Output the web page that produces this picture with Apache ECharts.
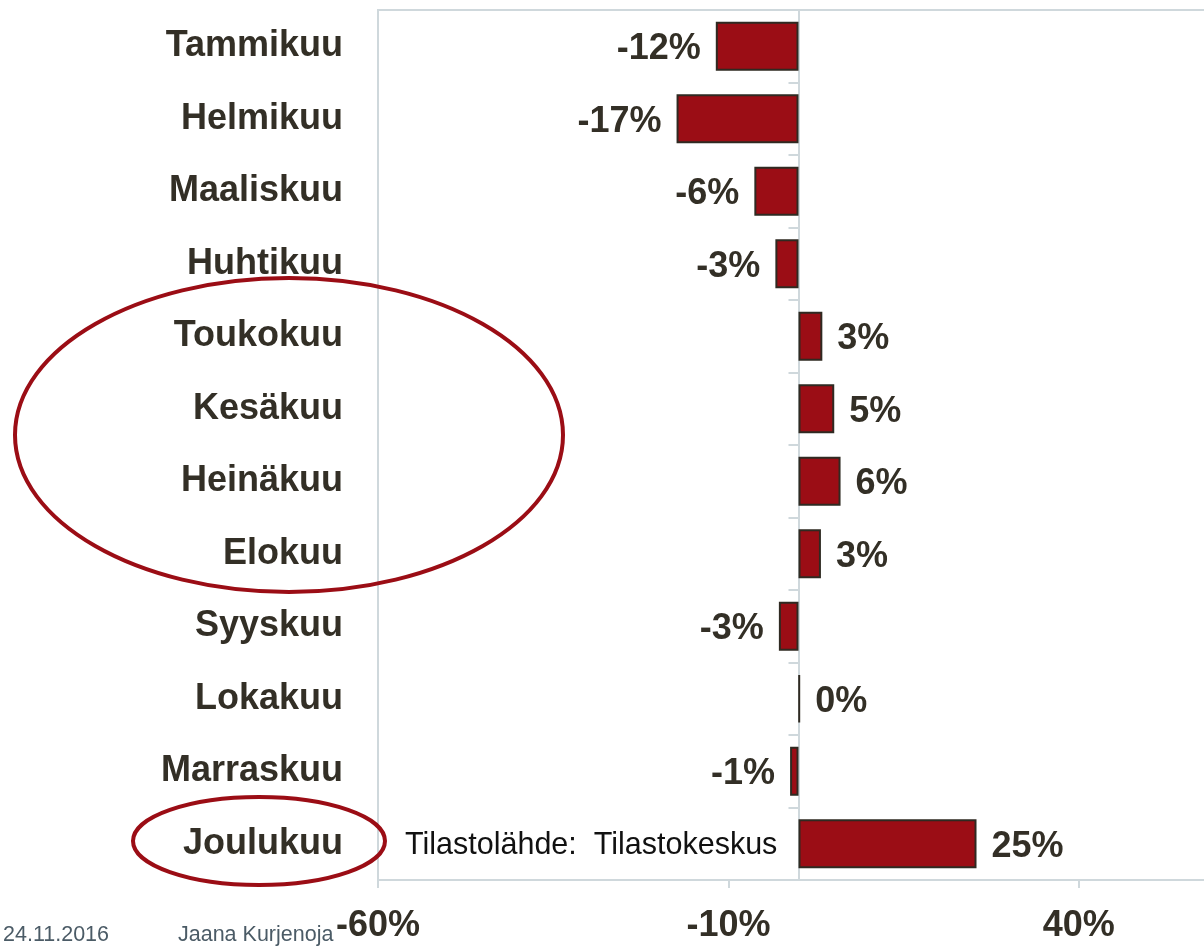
<!DOCTYPE html>
<html>
<head>
<meta charset="utf-8">
<script src="https://cdn.jsdelivr.net/npm/echarts@6/dist/echarts.min.js"></script>
<style>
html,body{margin:0;padding:0;background:#fff;}
#chart{width:1204px;height:946px;}
</style>
</head>
<body>
<div id="chart"></div>
<script>
var categories = ['Tammikuu','Helmikuu','Maaliskuu','Huhtikuu','Toukokuu','Kesäkuu','Heinäkuu','Elokuu','Syyskuu','Lokakuu','Marraskuu','Joulukuu'];
var values = [-11.8, -17.4, -6.3, -3.3, 3.4, 5.1, 6.0, 3.2, -2.8, 0.2, -1.2, 25.4];
var xTicks = {min: -60, max: 60, interval: 50};
var sourceText = 'Tilastolähde:  Tilastokeskus';
var footerDate = '24.11.2016';
var footerAuthor = 'Jaana Kurjenoja';

var FONT = '"Liberation Sans", Arial, sans-serif';
var TXT = '#332f26';
var LINE = '#cfd8dc';
var RED = '#9b0d15';

var barData = values.map(function (v) {
  return {value: v, label: {position: v < 0 ? 'left' : 'right'}};
});

var chart = echarts.init(document.getElementById('chart'));
chart.setOption({
  animation: false,
  backgroundColor: '#fff',
  grid: {left: 378, top: 10, right: -15, bottom: 66, show: true, borderColor: LINE, borderWidth: 2,
         backgroundColor: 'transparent', outerBoundsMode: 'none', containLabel: false},
  xAxis: {
    type: 'value', min: xTicks.min, max: xTicks.max, interval: xTicks.interval,
    axisLine: {show: true, onZero: false, lineStyle: {color: LINE, width: 2}},
    axisTick: {show: true, length: 8, lineStyle: {color: LINE, width: 2}},
    splitLine: {show: false},
    axisLabel: {formatter: function (v) { return v + '%'; }, showMaxLabel: false, color: TXT, fontSize: 36, fontWeight: 'bold', fontFamily: FONT, margin: 28}
  },
  yAxis: [{
    type: 'category', data: categories, inverse: true, position: 'left',
    axisLine: {show: false, onZero: false}, axisTick: {show: false},
    axisLabel: {color: TXT, fontSize: 36, fontWeight: 'bold', fontFamily: FONT, margin: 35, padding: [3, 0, 0, 0]}
  }, {
    type: 'category', data: categories, inverse: true, position: 'left',
    axisLine: {show: true, onZero: true, onZeroAxisIndex: 0, lineStyle: {color: LINE, width: 2}},
    axisTick: {show: true, length: 10, lineStyle: {color: LINE, width: 2}},
    axisLabel: {show: false}
  }],
  series: [{
    type: 'bar', yAxisIndex: 0, data: barData, barWidth: 49,
    itemStyle: {color: RED, borderColor: '#2f2a22', borderWidth: 2},
    label: {show: true, distance: 15, offset: [0, 3], color: TXT, fontSize: 36, fontWeight: 'bold', fontFamily: FONT,
      formatter: function (p) { return Math.round(p.value) + '%'; }}
  }],
  graphic: [
    {type: 'ellipse', shape: {cx: 289, cy: 435, rx: 274, ry: 157}, style: {fill: 'none', stroke: RED, lineWidth: 4}, z: 100},
    {type: 'ellipse', shape: {cx: 259, cy: 841, rx: 126, ry: 44}, style: {fill: 'none', stroke: RED, lineWidth: 4}, z: 100},
    {type: 'text', left: 405, top: 830, style: {text: sourceText, fill: '#111', font: '30.5px ' + FONT}, z: 100},
    {type: 'text', left: 3, top: 924, style: {text: footerDate, fill: '#4b5b66', font: '21.5px ' + FONT}, z: 100},
    {type: 'text', left: 178, top: 924, style: {text: footerAuthor, fill: '#4b5b66', font: '21.5px ' + FONT}, z: 100}
  ]
});
</script>
</body>
</html>
